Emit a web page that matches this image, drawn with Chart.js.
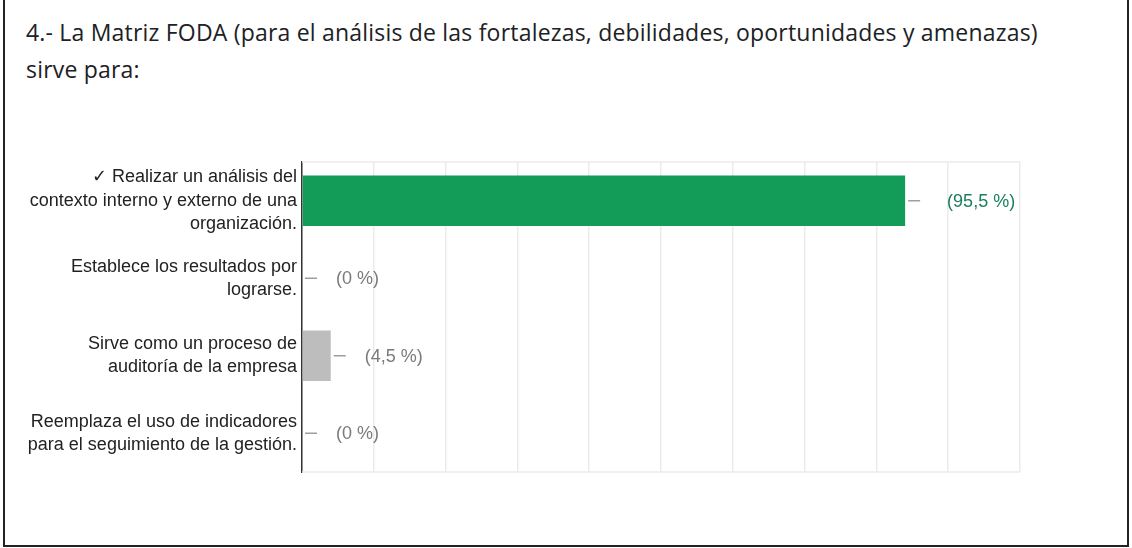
<!DOCTYPE html>
<html>
<head>
<meta charset="utf-8">
<script src="https://cdn.jsdelivr.net/npm/chart.js@4.4.1/dist/chart.umd.min.js"></script>
<style>
html, body { margin: 0; padding: 0; background: #fff; width: 1132px; height: 548px; overflow: hidden; }
#frame { position: absolute; left: 3px; top: -4px; width: 1126px; height: 551px; border: 2px solid #222; box-sizing: border-box; }
#title { position: absolute; left: 26px; top: 14px; font-family: "Open Sans", sans-serif; font-size: 23px; letter-spacing: 0.2px; line-height: 37px; color: #202124; white-space: nowrap; }
#wrap { position: absolute; left: 0; top: 0; width: 1132px; height: 548px; }
</style>
</head>
<body>
<div id="frame"></div>
<div id="title">4.- La Matriz FODA (para el análisis de las fortalezas, debilidades, oportunidades y amenazas)<br>sirve para:</div>
<div id="wrap"><canvas id="chart_foda"></canvas></div>
<script>
// answers, one array of lines per option
var categories = [
    ['\u2713 Realizar un análisis del', 'contexto interno y externo de una', 'organización.'],
    ['Establece los resultados por', 'lograrse.'],
    ['Sirve como un proceso de', 'auditoría de la empresa'],
    ['Reemplaza el uso de indicadores', 'para el seguimiento de la gestión.']
];
// number of responses per option (22 in total)
var counts = [21, 0, 1, 0];
var correctIndex = 0;
var axisMax = 25;
var axisStep = 2.5;

var total = counts.reduce(function (a, b) { return a + b; }, 0);

function pctLabel(v) {
    var p = Math.round(v / total * 1000) / 10;
    return '(' + String(p).replace('.', ',') + ' %)';
}

var valueLabels = {
    id: 'valueLabels',
    afterDatasetsDraw: function (chart) {
        var ctx = chart.ctx;
        var meta = chart.getDatasetMeta(0);
        ctx.save();
        ctx.font = '18px "Liberation Sans", Arial, sans-serif';
        ctx.textBaseline = 'middle';
        ctx.textAlign = 'left';
        meta.data.forEach(function (bar, i) {
            var x = bar.x, y = bar.y;
            ctx.strokeStyle = '#9e9e9e';
            ctx.lineWidth = 1.5;
            ctx.beginPath();
            ctx.moveTo(x + 3, y);
            ctx.lineTo(x + 15, y);
            ctx.stroke();
            ctx.fillStyle = i === correctIndex ? '#1a7f5a' : '#7a7a7a';
            ctx.fillText(pctLabel(counts[i]), x + (i === correctIndex ? 42 : 34), y + 1);
        });
        ctx.restore();
    }
};

var plotFrame = {
    id: 'plotFrame',
    beforeDatasetsDraw: function (chart) {
        var a = chart.chartArea;
        var ctx = chart.ctx;
        ctx.save();
        ctx.strokeStyle = '#ececec';
        ctx.lineWidth = 1.5;
        ctx.beginPath();
        ctx.moveTo(a.left, a.top);
        ctx.lineTo(a.right, a.top);
        ctx.moveTo(a.left, a.bottom);
        ctx.lineTo(a.right, a.bottom);
        ctx.stroke();
        ctx.restore();
    }
};

var chart_foda = new Chart(document.getElementById('chart_foda'), {
    type: 'bar',
    data: {
        labels: categories,
        datasets: [
            {
                data: counts,
                backgroundColor: counts.map(function (_, i) { return i === correctIndex ? '#129c58' : '#bdbdbd'; }),
                borderWidth: 0,
                categoryPercentage: 1,
                barPercentage: 0.65
            }
        ]
    },
    options: {
        indexAxis: 'y',
        animation: false,
        responsive: true,
        maintainAspectRatio: false,
        layout: {
            padding: { left: 0, top: 162, right: 112, bottom: 76 }
        },
        plugins: {
            legend: { display: false },
            tooltip: { enabled: false }
        },
        scales: {
            x: {
                min: 0,
                max: axisMax,
                ticks: { display: false, stepSize: axisStep },
                grid: { color: '#ebebeb', lineWidth: 1.5, drawTicks: false },
                border: { display: false }
            },
            y: {
                afterFit: function (scale) { scale.width = 302; },
                ticks: {
                    color: '#222',
                    padding: 5,
                    font: { family: '"Liberation Sans", Arial, sans-serif', size: 18, lineHeight: 1.3 }
                },
                grid: { display: false, drawTicks: false },
                border: { color: '#333', width: 1.5 }
            }
        }
    },
    plugins: [plotFrame, valueLabels]
});
</script>
</body>
</html>
